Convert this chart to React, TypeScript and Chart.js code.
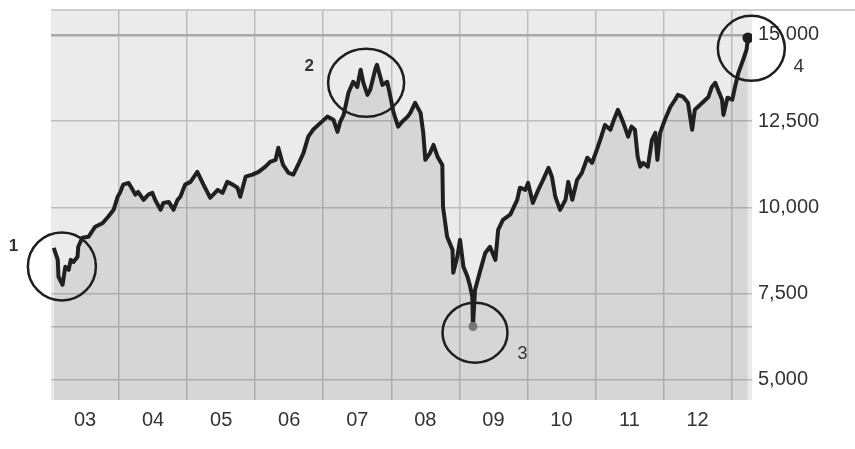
import React, { useEffect, useRef } from 'react';
import { Chart, registerables } from 'chart.js';

Chart.register(...registerables);

// Decimal year of each reading (2003 .. early 2013)
const dates = [
  2003.04, 2003.10, 2003.11, 2003.17, 2003.21, 2003.26, 2003.29, 2003.33, 2003.39, 2003.40,
  2003.46, 2003.55, 2003.65, 2003.76, 2003.84, 2003.92, 2003.98, 2004.02, 2004.06, 2004.14,
  2004.20, 2004.24, 2004.28, 2004.36, 2004.43, 2004.49, 2004.53, 2004.61, 2004.65, 2004.73,
  2004.80, 2004.86, 2004.90, 2004.97, 2005.05, 2005.15, 2005.24, 2005.34, 2005.45, 2005.52,
  2005.59, 2005.67, 2005.74, 2005.78, 2005.86, 2005.96, 2006.05, 2006.15, 2006.22, 2006.30,
  2006.34, 2006.41, 2006.49, 2006.56, 2006.63, 2006.71, 2006.78, 2006.85, 2006.96, 2007.06,
  2007.15, 2007.21, 2007.25, 2007.30, 2007.37, 2007.44, 2007.50, 2007.55, 2007.59, 2007.65,
  2007.69, 2007.77, 2007.79, 2007.87, 2007.94, 2007.99, 2008.03, 2008.10, 2008.16, 2008.24,
  2008.28, 2008.35, 2008.43, 2008.47, 2008.50, 2008.57, 2008.62, 2008.68, 2008.75, 2008.76,
  2008.82, 2008.90, 2008.91, 2008.97, 2009.01, 2009.06, 2009.12, 2009.16, 2009.19, 2009.20,
  2009.23, 2009.31, 2009.38, 2009.45, 2009.53, 2009.57, 2009.64, 2009.75, 2009.85, 2009.89,
  2009.97, 2010.01, 2010.08, 2010.16, 2010.23, 2010.31, 2010.36, 2010.41, 2010.48, 2010.56,
  2010.60, 2010.66, 2010.73, 2010.80, 2010.88, 2010.95, 2011.02, 2011.07, 2011.14, 2011.22,
  2011.26, 2011.33, 2011.41, 2011.48, 2011.53, 2011.58, 2011.62, 2011.66, 2011.70, 2011.77,
  2011.83, 2011.88, 2011.91, 2011.95, 2012.02, 2012.10, 2012.17, 2012.21, 2012.29, 2012.36,
  2012.42, 2012.46, 2012.57, 2012.66, 2012.71, 2012.76, 2012.80, 2012.86, 2012.88, 2012.94,
  2013.01, 2013.05, 2013.10, 2013.17, 2013.22, 2013.24,
];

// Index level read at each date
const dowValues = [
  8830, 8480, 7990, 7760, 8280, 8190, 8480, 8420, 8570, 8860,
  9120, 9150, 9440, 9550, 9730, 9930, 10310, 10450, 10660, 10710,
  10510, 10370, 10450, 10220, 10370, 10420, 10220, 9930, 10130, 10160,
  9930, 10220, 10310, 10660, 10740, 11030, 10660, 10280, 10510, 10420,
  10740, 10660, 10570, 10310, 10890, 10950, 11030, 11180, 11320, 11380,
  11730, 11230, 11000, 10950, 11230, 11580, 12050, 12250, 12450, 12630,
  12540, 12190, 12480, 12680, 13320, 13640, 13490, 13990, 13610, 13260,
  13410, 14040, 14130, 13550, 13640, 13180, 12770, 12340, 12480, 12630,
  12740, 13030, 12740, 12160, 11380, 11580, 11810, 11470, 11230, 10020,
  9150, 8770, 8110, 8570, 9060, 8280, 7990, 7700, 7410, 6550,
  7610, 8190, 8680, 8860, 8480, 9350, 9640, 9800, 10220, 10570,
  10510, 10710, 10130, 10510, 10800, 11150, 10890, 10310, 9930, 10220,
  10740, 10220, 10800, 11000, 11440, 11290, 11670, 11960, 12390, 12250,
  12480, 12830, 12450, 12050, 12340, 12250, 11470, 11180, 11290, 11180,
  11960, 12160, 11380, 12160, 12540, 12910, 13120, 13260, 13200, 13030,
  12250, 12830, 13030, 13200, 13490, 13610, 13410, 13120, 12680, 13180,
  13120, 13490, 13900, 14280, 14570, 14910,
];

const yearLabels = ['03', '04', '05', '06', '07', '08', '09', '10', '11', '12'];
const firstYear = 2003;
const yTickValues = [5000, 7500, 10000, 12500, 15000];
const lowLineValue = 6550;

// Circled annotations: name, centre (year, value)
const markerNames = ['1', '2', '3', '4'];
const markerYears = [2003.16, 2007.63, 2009.23, 2013.29];
const markerValues = [8290, 13610, 6370, 14610];

export default function App() {
  const canvasRef = useRef<HTMLCanvasElement | null>(null);

  useEffect(() => {
    const canvas = canvasRef.current;
    if (!canvas) return;

    const points = dates.map((d, i) => ({ x: d, y: dowValues[i] }));
    const minIndex = dowValues.indexOf(Math.min(...dowValues));
    const lastIndex = dowValues.length - 1;

    const xTicks: number[] = [];
    for (let i = 0; i < yearLabels.length; i++) {
      xTicks.push(firstYear + i);
      xTicks.push(firstYear + i + 0.5);
    }
    xTicks.push(firstYear + yearLabels.length);

    const markerStyle = [
      { rx: 34, ry: 34, dx: -48.5, dy: -20.5, bold: true, size: 17 },
      { rx: 38, ry: 34, dx: -57, dy: -17, bold: true, size: 17 },
      { rx: 32.5, ry: 30, dx: 47.5, dy: 21.5, bold: false, size: 18 },
      { rx: 33.5, ry: 32.5, dx: 47.5, dy: 18, bold: false, size: 19 },
    ];

    const backgroundPlugin = {
      id: 'plotBackground',
      beforeDraw(chart: any) {
        const { ctx, chartArea } = chart;
        ctx.save();
        ctx.fillStyle = '#ffffff';
        ctx.fillRect(0, 0, chart.width, chart.height);
        ctx.fillStyle = '#ebebeb';
        ctx.fillRect(chartArea.left, chartArea.top, chartArea.right - chartArea.left, chartArea.bottom - chartArea.top);
        ctx.strokeStyle = '#cfcfcf';
        ctx.lineWidth = 2;
        ctx.beginPath();
        ctx.moveTo(chartArea.left, chartArea.top);
        ctx.lineTo(chart.width, chartArea.top);
        ctx.stroke();
        ctx.restore();
      },
    };

    const markerPlugin = {
      id: 'circleMarkers',
      afterDraw(chart: any) {
        const { ctx } = chart;
        const xs = chart.scales.x;
        const ys = chart.scales.y;
        ctx.save();
        markerNames.forEach((name, i) => {
          const st = markerStyle[i];
          const cx = xs.getPixelForValue(markerYears[i]);
          const cy = ys.getPixelForValue(markerValues[i]);
          ctx.beginPath();
          ctx.ellipse(cx, cy, st.rx, st.ry, 0, 0, Math.PI * 2);
          ctx.strokeStyle = '#1e1e1e';
          ctx.lineWidth = 2.5;
          ctx.stroke();
          ctx.fillStyle = '#333333';
          ctx.font = `${st.bold ? 'bold ' : ''}${st.size}px "Liberation Sans", Arial, sans-serif`;
          ctx.textAlign = 'center';
          ctx.textBaseline = 'middle';
          ctx.fillText(name, cx + st.dx, cy + st.dy);
        });
        ctx.restore();
      },
    };

    const chart = new Chart(canvas, {
      type: 'line',
      data: {
        datasets: [
          {
            data: points,
            borderColor: '#202020',
            borderWidth: 4,
            backgroundColor: 'rgba(0,0,0,0.085)',
            fill: 'start',
            tension: 0,
            borderJoinStyle: 'round',
            pointRadius: (c: any) => (c.dataIndex === lastIndex ? 5.5 : c.dataIndex === minIndex ? 4.5 : 0),
            pointBackgroundColor: (c: any) => (c.dataIndex === lastIndex ? '#1e1e1e' : '#777777'),
            pointBorderWidth: 0,
            pointHoverRadius: 0,
          } as any,
        ],
      },
      options: {
        responsive: false,
        maintainAspectRatio: false,
        animation: false,
        layout: { padding: { left: 51, top: 10, right: 0, bottom: 0 } },
        plugins: {
          legend: { display: false },
          tooltip: { enabled: false },
          title: { display: false },
        },
        scales: {
          x: {
            type: 'linear',
            min: firstYear,
            max: 2013.3,
            afterBuildTicks: (axis: any) => {
              axis.ticks = xTicks.map((v) => ({ value: v }));
            },
            afterFit: (scale: any) => {
              scale.height = 49;
              scale.paddingLeft = 0;
              scale.paddingRight = 0;
            },
            border: { display: false },
            grid: {
              drawTicks: false,
              lineWidth: 1.5,
              color: (c: any) => {
                const v = c.tick ? c.tick.value : 0;
                return Number.isInteger(v) && v > firstYear ? '#bdbdbd' : 'rgba(0,0,0,0)';
              },
            },
            ticks: {
              autoSkip: false,
              maxRotation: 0,
              minRotation: 0,
              padding: 8,
              color: '#333333',
              font: { family: '"Liberation Sans", Arial, sans-serif', size: 20 },
              callback: (v: any) => {
                const n = Number(v);
                if (Math.abs(n - Math.floor(n) - 0.5) < 0.01) {
                  return yearLabels[Math.floor(n) - firstYear] ?? '';
                }
                return '';
              },
            },
          },
          y: {
            type: 'linear',
            position: 'right',
            min: 4420,
            max: 15720,
            afterBuildTicks: (axis: any) => {
              axis.ticks = [...yTickValues, lowLineValue].sort((a, b) => a - b).map((v) => ({ value: v }));
            },
            afterFit: (scale: any) => {
              scale.width = 103;
              scale.paddingTop = 0;
              scale.paddingBottom = 0;
            },
            border: { display: false },
            grid: {
              drawTicks: false,
              lineWidth: (c: any) => (c.tick && c.tick.value === 15000 ? 2.5 : 1.5),
              color: (c: any) => (c.tick && c.tick.value === 15000 ? '#a8a8a8' : '#bdbdbd'),
            },
            ticks: {
              padding: 6,
              color: '#333333',
              font: { family: '"Liberation Sans", Arial, sans-serif', size: 20 },
              callback: (v: any) => {
                const n = Number(v);
                return yTickValues.includes(n) ? n.toLocaleString('en-US') : '';
              },
            },
          },
        },
      },
      plugins: [backgroundPlugin, markerPlugin],
    } as any);

    return () => {
      chart.destroy();
    };
  }, []);

  return (
    <div style={{ position: 'fixed', left: 0, top: 0, width: 855, height: 449, background: '#ffffff' }}>
      <canvas ref={canvasRef} width={855} height={449} />
    </div>
  );
}
